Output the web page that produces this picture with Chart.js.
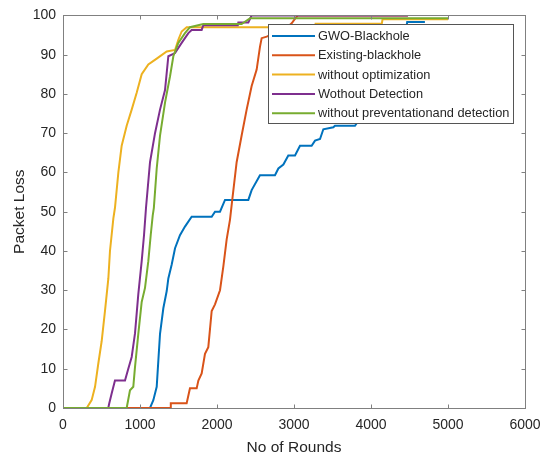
<!DOCTYPE html>
<html>
<head>
<meta charset="utf-8">
<script src="https://cdn.jsdelivr.net/npm/chart.js@4.4.0/dist/chart.umd.min.js"></script>
<style>
    html, body { margin: 0; padding: 0; background: #fff; }
    #box { width: 552px; height: 459px; }
</style>
</head>
<body>
<div id="box"><canvas id="lossChart"></canvas></div>
<script>
// values: rounds (x) and packet loss (y) for every curve
let gwoRounds = [0, 1130, 1173, 1217, 1238, 1260, 1303, 1347, 1368, 1411, 1455, 1519, 1584, 1671, 1931, 1974, 2039, 2104, 2407, 2450, 2558, 2753, 2797, 2862, 2926, 3013, 3078, 3229, 3273, 3338, 3381, 3511, 3532, 3792, 3900, 4000, 4100, 4200, 4300, 4400, 4460, 4470, 4700];
let gwoLoss = [0, 0, 2, 5.4, 12, 18.9, 25.4, 29.8, 33, 36.5, 40.7, 44, 46.2, 48.7, 48.7, 50, 50, 53, 53, 55.5, 59.3, 59.3, 61, 62, 64.3, 64.3, 66.8, 66.8, 68.1, 68.5, 71, 71.5, 71.9, 71.9, 75, 80, 85, 90, 94, 96.5, 97, 98.3, 98.3];

let existingRounds = [0, 1390, 1400, 1606, 1649, 1736, 1758, 1801, 1844, 1887, 1931, 1974, 2039, 2082, 2126, 2169, 2195, 2255, 2320, 2385, 2450, 2515, 2558, 2580, 2645, 2750, 2850, 2940, 2970, 3000, 3050, 4480];
let existingLoss = [0, 0, 1.2, 1.2, 5, 5, 7, 8.8, 13.8, 15.5, 24.7, 26.4, 30, 36, 43, 48, 52.5, 62.6, 69.4, 76, 82, 86.2, 92, 94.2, 94.6, 95.5, 96.5, 97.5, 98, 98.8, 100, 100];

let noOptRounds = [0, 308, 372, 416, 459, 502, 545, 589, 610, 654, 675, 719, 762, 827, 892, 957, 1022, 1108, 1217, 1347, 1455, 1498, 1541, 1606, 3270, 3280, 4140, 4150, 5000];
let noOptLoss = [0, 0, 2, 5.4, 11.4, 17, 24.7, 33, 40, 48.3, 51, 60, 66.8, 71.9, 76, 80.3, 85, 87.5, 89, 90.8, 91.2, 93.8, 95.9, 97, 97, 97.9, 97.9, 99, 99];

let noDetectRounds = [0, 588, 601, 632, 675, 805, 848, 892, 935, 978, 1022, 1052, 1078, 1130, 1195, 1260, 1325, 1368, 1455, 1541, 1628, 1671, 1801, 1822, 2270, 2277, 2407, 2450, 4480];
let noDetectLoss = [0, 0, 1.2, 3.7, 7, 7, 10, 13, 19, 29, 37.4, 44, 51, 62.6, 70, 76, 81, 89.6, 90.4, 93, 95.5, 96.3, 96.3, 97.5, 97.5, 98.2, 98.2, 100, 100];

let noPrevRounds = [0, 827, 870, 913, 935, 978, 1022, 1065, 1108, 1139, 1165, 1180, 1217, 1260, 1325, 1390, 1433, 1498, 1584, 1649, 1822, 2320, 2430, 5000];
let noPrevLoss = [0, 0, 4.5, 5.4, 10.4, 18.9, 27, 30.6, 37.4, 44, 49, 51, 61, 69.4, 77.8, 84.5, 89.6, 93, 95.5, 97, 97.8, 97.8, 99.3, 99.3];

let seriesNames = ['GWO-Blackhole', 'Existing-blackhole', 'without optimization', 'Wothout Detection', 'without preventationand detection'];
let seriesColors = ['#0072BD', '#D95319', '#EDB120', '#7E2F8E', '#77AC30'];

let xTicks = [0, 1000, 2000, 3000, 4000, 5000, 6000];
let yTicks = [0, 10, 20, 30, 40, 50, 60, 70, 80, 90, 100];

let fontFamily = "'Liberation Sans', Arial, Helvetica, sans-serif";


function toPoints(xs, ys) {
    return xs.map((x, i) => ({ x: x, y: ys[i] }));
}


// box round the plot area with inward ticks, then the legend on top of the lines
const matlabFrame = {
    id: 'matlabFrame',
    afterDatasetsDraw(chart) {
        let ctx = chart.ctx;
        let area = chart.chartArea;
        let xs = chart.scales.x;
        let ys = chart.scales.y;
        let l = Math.round(area.left) + 0.5;
        let r = Math.round(area.right) + 0.5;
        let t = Math.round(area.top) + 0.5;
        let b = Math.round(area.bottom) + 0.5;

        ctx.save();
        ctx.strokeStyle = '#808080';
        ctx.lineWidth = 1;
        ctx.strokeRect(l, t, r - l, b - t);

        ctx.beginPath();
        xTicks.forEach((v) => {
            let px = Math.round(xs.getPixelForValue(v)) + 0.5;
            ctx.moveTo(px, b); ctx.lineTo(px, b - 4);
            ctx.moveTo(px, t); ctx.lineTo(px, t + 4);
        });
        yTicks.forEach((v) => {
            let py = Math.round(ys.getPixelForValue(v)) + 0.5;
            ctx.moveTo(l, py); ctx.lineTo(l + 4, py);
            ctx.moveTo(r, py); ctx.lineTo(r - 4, py);
        });
        ctx.stroke();

        // legend
        let lx = 268.5, ly = 24.5, lw = 245, lh = 99;
        ctx.fillStyle = '#fff';
        ctx.fillRect(lx, ly, lw, lh);
        ctx.strokeStyle = '#555';
        ctx.strokeRect(lx, ly, lw, lh);

        ctx.font = '12.8px ' + fontFamily;
        ctx.textBaseline = 'middle';
        ctx.textAlign = 'left';
        chart.data.datasets.forEach((ds, i) => {
            let rowY = 36 + i * 19.3;
            ctx.strokeStyle = ds.borderColor;
            ctx.lineWidth = 2;
            ctx.beginPath();
            ctx.moveTo(272, rowY);
            ctx.lineTo(315, rowY);
            ctx.stroke();
            ctx.fillStyle = '#262626';
            ctx.fillText(ds.label, 318, rowY + 0.5);
        });
        ctx.restore();
    }
};


let allRounds = [gwoRounds, existingRounds, noOptRounds, noDetectRounds, noPrevRounds];
let allLoss = [gwoLoss, existingLoss, noOptLoss, noDetectLoss, noPrevLoss];

let datasets = seriesNames.map((name, i) => ({
    label: name,
    data: toPoints(allRounds[i], allLoss[i]),
    borderColor: seriesColors[i],
    backgroundColor: seriesColors[i],
    borderWidth: 2,
    pointRadius: 0,
    tension: 0,
    fill: false,
    order: seriesNames.length - i
}));

new Chart('lossChart', {
    type: 'line',
    data: { datasets: datasets },
    options: {
        responsive: true,
        maintainAspectRatio: false,
        devicePixelRatio: 1,
        animation: false,
        layout: { padding: { top: 12, right: 27, left: 0, bottom: 0 } },
        plugins: {
            legend: { display: false },
            tooltip: { enabled: false }
        },
        scales: {
            x: {
                type: 'linear',
                min: xTicks[0],
                max: xTicks[xTicks.length - 1],
                grid: { display: false, drawTicks: false },
                border: { display: false },
                ticks: {
                    stepSize: xTicks[1] - xTicks[0],
                    padding: 8.5,
                    color: '#262626',
                    maxRotation: 0,
                    font: { family: fontFamily, size: 14 },
                    callback: (v) => String(v)
                },
                title: {
                    display: true,
                    text: 'No of Rounds',
                    color: '#262626',
                    font: { family: fontFamily, size: 15.5, lineHeight: 1 },
                    padding: { top: 0, bottom: 4 }
                },
                afterFit(scale) { scale.height = 51; }
            },
            y: {
                type: 'linear',
                min: yTicks[0],
                max: yTicks[yTicks.length - 1],
                grid: { display: false, drawTicks: false },
                border: { display: false },
                ticks: {
                    stepSize: yTicks[1] - yTicks[0],
                    padding: 7,
                    color: '#262626',
                    font: { family: fontFamily, size: 14 }
                },
                title: {
                    display: true,
                    text: 'Packet Loss',
                    color: '#262626',
                    font: { family: fontFamily, size: 15.5, lineHeight: 1 },
                    padding: { top: 12, bottom: 0 }
                },
                afterFit(scale) { scale.width = 63; }
            }
        }
    },
    plugins: [matlabFrame]
});
</script>
</body>
</html>
